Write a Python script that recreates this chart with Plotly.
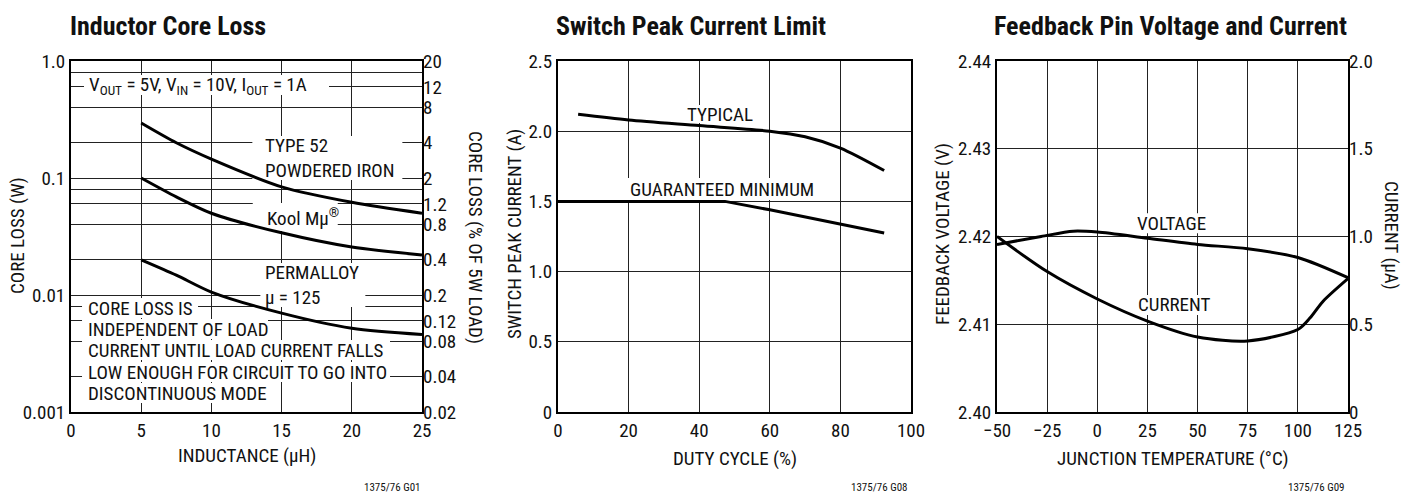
import math
import plotly.graph_objects as go

# ---------------- data ----------------
# Chart 1: Inductor Core Loss
inductance = [5, 7.5, 10, 15, 20, 25]
loss_type52 = [0.295, 0.2, 0.145, 0.084, 0.062, 0.050]
loss_koolmu = [0.1, 0.069, 0.050, 0.034, 0.0257, 0.022]
loss_permalloy = [0.02, 0.0148, 0.0106, 0.0070, 0.0052, 0.0046]
c1_xticks = [0, 5, 10, 15, 20, 25]
c1_grid_vals = [0.001, 0.002, 0.004, 0.006, 0.008, 0.01, 0.02, 0.04, 0.06, 0.08,
                0.1, 0.2, 0.4, 0.6, 0.8, 1.0]
c1_left_labels = {0.001: "0.001", 0.01: "0.01", 0.1: "0.1", 1.0: "1.0"}
c1_right_vals = [20, 12, 8, 4, 2, 1.2, 0.8, 0.4, 0.2, 0.12, 0.08, 0.04, 0.02]
c1_right_text = ["20", "12", "8", "4", "2", "1.2", "0.8", "0.4", "0.2", "0.12", "0.08", "0.04", "0.02"]
LOAD_W = 5.0  # percent axis is loss as % of a 5W load

# Chart 2: Switch Peak Current Limit
duty_typ = [5.7, 20, 40, 60, 70, 80, 92.4]
cur_typ = [2.12, 2.08, 2.04, 2.0, 1.96, 1.88, 1.72]
duty_min = [0, 47.3, 60, 80, 92.4]
cur_min = [1.5, 1.5, 1.44, 1.34, 1.275]
c2_xticks = [0, 20, 40, 60, 80, 100]
c2_yticks = [0, 0.5, 1.0, 1.5, 2.0, 2.5]
c2_ytext = ["0", "0.5", "1.0", "1.5", "2.0", "2.5"]

# Chart 3: Feedback Pin Voltage and Current
temp_v = [-50, -28, -12, 0, 25, 50, 75, 100, 125]
fb_voltage = [2.4191, 2.4200, 2.4206, 2.4205, 2.4198, 2.4191, 2.4186, 2.4176, 2.4153]
temp_i = [-50, -25, 0, 25, 50, 75, 100, 106, 112.5, 125]
fb_current = [1.0, 0.80, 0.644, 0.518, 0.427, 0.405, 0.47, 0.535, 0.63, 0.76]
c3_xticks = [-50, -25, 0, 25, 50, 75, 100, 125]
c3_xtext = ["\u221250", "\u221225", "0", "25", "50", "75", "100", "125"]
c3_yticks = [2.40, 2.41, 2.42, 2.43, 2.44]
c3_ytext = ["2.40", "2.41", "2.42", "2.43", "2.44"]
c3_y2ticks = [0, 0.5, 1.0, 1.5, 2.0]
c3_y2text = ["0", "0.5", "1.0", "1.5", "2.0"]

# ---------------- layout helpers ----------------
PAGE_W, PAGE_H, BODY = 1417, 493, 8   # page has default 8px body margin
W, H = PAGE_W - BODY, PAGE_H - BODY
FONT = "Roboto Condensed, Liberation Sans Narrow, Arial Narrow, Roboto, sans-serif"
FS = 19
TICK = dict(family=FONT, size=FS, color="#111")


def px(x):
    return (x - BODY) / W


def py(y):
    return 1 - (y - BODY) / H


def lg(values):
    # chart 1 is logarithmic: it is drawn on a linear axis of log10 values
    return [math.log10(v) for v in values]


C1 = (71, 422)
C2 = (558, 911)
C3 = (997, 1348)
YT, YB = 61, 412


def log_of_pix(yp):
    # chart-1 label positions: pixel row -> log10(W)
    return -(yp - YT) / ((YB - YT) / 3.0)


fig = go.Figure()
LINE = dict(color="black", width=3, shape="spline", smoothing=0.8)

fig.add_trace(go.Scatter(x=inductance, y=lg(loss_type52), mode="lines", line=LINE, xaxis="x", yaxis="y"))
fig.add_trace(go.Scatter(x=inductance, y=lg(loss_koolmu), mode="lines", line=LINE, xaxis="x", yaxis="y"))
fig.add_trace(go.Scatter(x=inductance, y=lg(loss_permalloy), mode="lines", line=LINE, xaxis="x", yaxis="y"))
# same curve in % of 5W load, invisible, to carry the right-hand axis
fig.add_trace(go.Scatter(x=inductance, y=lg([v / LOAD_W * 100 for v in loss_type52]), mode="lines",
                         line=dict(color="rgba(0,0,0,0)", width=0), hoverinfo="skip",
                         xaxis="x", yaxis="y2"))

fig.add_trace(go.Scatter(x=duty_typ, y=cur_typ, mode="lines", line=LINE, xaxis="x2", yaxis="y3"))
fig.add_trace(go.Scatter(x=duty_min, y=cur_min, mode="lines", line=dict(color="black", width=3), xaxis="x2", yaxis="y3"))

fig.add_trace(go.Scatter(x=temp_v, y=fb_voltage, mode="lines", line=LINE, xaxis="x3", yaxis="y4"))
fig.add_trace(go.Scatter(x=temp_i, y=fb_current, mode="lines", line=LINE, xaxis="x3", yaxis="y5"))

common = dict(showline=True, linecolor="black", linewidth=2, mirror=True,
              gridcolor="#222", gridwidth=1, ticks="", tickfont=TICK, zeroline=False,
              fixedrange=True, automargin=False)
right = dict(showgrid=False, ticks="", tickfont=TICK, showline=False, zeroline=False,
             fixedrange=True, automargin=False)

fig.update_layout(
    width=W, height=H,
    margin=dict(l=0, r=0, t=0, b=0, autoexpand=False),
    paper_bgcolor="white", plot_bgcolor="white",
    showlegend=False,
    font=dict(family=FONT, color="#111"),
    xaxis=dict(domain=[px(C1[0]), px(C1[1])], range=[0, 25], tickvals=c1_xticks, anchor="y", **common),
    yaxis=dict(domain=[py(YB), py(YT)], range=[-3, 0], anchor="x",
               tickvals=lg(c1_grid_vals), ticktext=[c1_left_labels.get(v, "") for v in c1_grid_vals], **common),
    yaxis2=dict(overlaying="y", side="right",
                range=[math.log10(0.001 / LOAD_W * 100), math.log10(1.0 / LOAD_W * 100)], anchor="x",
                tickvals=lg(c1_right_vals), ticktext=c1_right_text, **right),
    xaxis2=dict(domain=[px(C2[0]), px(C2[1])], range=[0, 100], tickvals=c2_xticks, anchor="y3", **common),
    yaxis3=dict(domain=[py(YB), py(YT)], range=[0, 2.5], tickvals=c2_yticks, ticktext=c2_ytext, anchor="x2", **common),
    xaxis3=dict(domain=[px(C3[0]), px(C3[1])], range=[-50, 125], tickvals=c3_xticks, ticktext=c3_xtext, anchor="y4", **common),
    yaxis4=dict(domain=[py(YB), py(YT)], range=[2.40, 2.44], tickvals=c3_yticks, ticktext=c3_ytext, anchor="x3", **common),
    yaxis5=dict(overlaying="y4", side="right", range=[0, 2.0], anchor="x3",
                tickvals=c3_y2ticks, ticktext=c3_y2text, **right),
)

ann = []
shapes = []


def A(text, x, y, xanchor="center", yanchor="middle", size=FS, angle=0, align="center",
      xref="paper", yref="paper", box=None):
    ann.append(dict(text=text, x=x, y=y, xref=xref, yref=yref, xanchor=xanchor, yanchor=yanchor,
                    showarrow=False, textangle=angle, align=align,
                    font=dict(family=FONT, size=size, color="#111")))
    if box:
        # white patch drawn above the grid but under the curves
        x0, x1, hh = box
        shapes.append(dict(type="rect", layer="between", xref=xref, yref=yref,
                           xsizemode="pixel", ysizemode="pixel", xanchor=x, yanchor=y,
                           x0=x0, x1=x1, y0=-hh, y1=hh,
                           fillcolor="white", line=dict(width=0)))


# titles
A("<b>Inductor Core Loss</b>", px(68), py(26), xanchor="left", size=26)
A("<b>Switch Peak Current Limit</b>", px(554), py(26), xanchor="left", size=26)
A("<b>Feedback Pin Voltage and Current</b>", px(992), py(26), xanchor="left", size=26)

# axis titles
A("INDUCTANCE (\u03bcH)", px((C1[0] + C1[1]) / 2), py(455))
A("CORE LOSS (W)", px(17), py(236), angle=-90)
A("CORE LOSS (% OF 5W LOAD)", px(476), py(237), angle=90)
A("DUTY CYCLE (%)", px((C2[0] + C2[1]) / 2), py(458))
A("SWITCH PEAK CURRENT (A)", px(514), py(234), angle=-90)
A("JUNCTION TEMPERATURE (\u00b0C)", px((C3[0] + C3[1]) / 2), py(458))
A("FEEDBACK VOLTAGE (V)", px(942), py(234), angle=-90)
A("CURRENT (\u03bcA)", px(1392), py(235), angle=90)

# figure codes
A("1375/76 G01", px(423), py(487), xanchor="right", size=11)
A("1375/76 G08", px(910), py(487), xanchor="right", size=11)
A("1375/76 G09", px(1347), py(487), xanchor="right", size=11)

# in-plot labels, chart 1 (y in log10 units)
A("V<sub>OUT</sub> = 5V, V<sub>IN</sub> = 10V, I<sub>OUT</sub> = 1A", 1.14, log_of_pix(85), xref="x", yref="y",
  xanchor="left", box=(-3, 242, 10))
A("TYPE 52<br>POWDERED IRON", 13.7, log_of_pix(158), xref="x", yref="y", xanchor="left", align="left",
  box=(-11, 139, 22))
A("Kool M\u03bc<sup>\u00ae</sup>", 13.8, log_of_pix(217), xref="x", yref="y", xanchor="left", align="left",
  box=(-12, 73, 14))
A("PERMALLOY<br>\u03bc = 125", 13.7, log_of_pix(285), xref="x", yref="y", xanchor="left", align="left",
  box=(-3, 102, 22))
block = [("CORE LOSS IS", 308, 108), ("INDEPENDENT OF LOAD", 329, 178),
         ("CURRENT UNTIL LOAD CURRENT FALLS", 350, 300),
         ("LOW ENOUGH FOR CIRCUIT TO GO INTO", 372, 300), ("DISCONTINUOUS MODE", 393, 178)]
for txt, yp, wd in block:
    A(txt, 1.07, log_of_pix(yp), xref="x", yref="y", xanchor="left", align="left",
      box=(-4, wd + 4, 10))

# chart 2 labels
A("TYPICAL", 45.9, 2.122, xref="x2", yref="y3", box=(-37, 37, 9))
A("GUARANTEED MINIMUM", 46.5, 1.588, xref="x2", yref="y3", box=(-97, 97, 11))

# chart 3 labels
A("VOLTAGE", 37.2, 2.4215, xref="x3", yref="y4", box=(-38, 38, 10))
A("CURRENT", 38.7, 2.4122, xref="x3", yref="y4", box=(-40, 40, 10))

fig.update_layout(annotations=ann, shapes=shapes)
fig.write_html("out.html")
